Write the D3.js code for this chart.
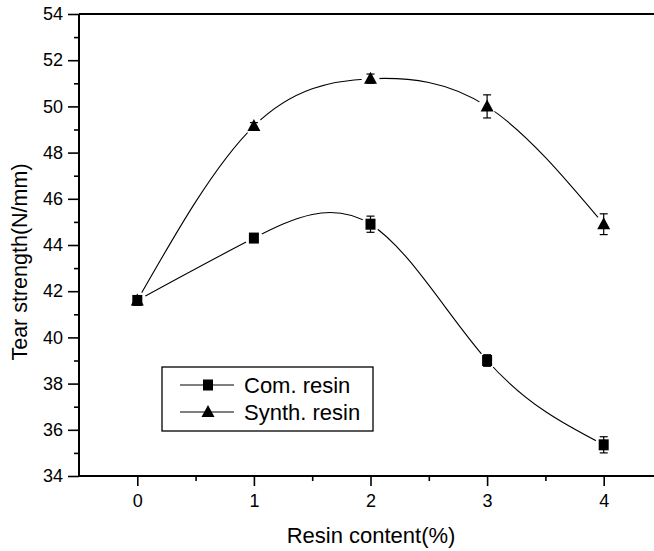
<!DOCTYPE html>
<html><head><meta charset="utf-8">
<script src="https://cdn.jsdelivr.net/npm/d3@7"></script>
<style>html,body{margin:0;padding:0;background:#fff;}svg{display:block;}</style>
</head><body>
<script>
const contents = [0, 1, 2, 3, 4];
const comResin = [41.6, 44.3, 44.9, 39.0, 35.35];
const comErr = [0.1, 0.15, 0.35, 0.25, 0.35];
const synthResin = [41.6, 49.15, 51.2, 50.0, 44.9];
const synthErr = [0.1, 0.15, 0.2, 0.5, 0.45];
const yTicks = [34, 36, 38, 40, 42, 44, 46, 48, 50, 52, 54];
const xTicks = [0, 1, 2, 3, 4];
const seriesNames = ["Com. resin", "Synth. resin"];

const W = 654, H = 551;
const svg = d3.select("body").append("svg").attr("width", W).attr("height", H);
const x = d3.scaleLinear().domain([-0.5, 4.5]).range([79, 662]);
const y = d3.scaleLinear().domain([34, 54]).range([476, 14]);
const font = "'Liberation Sans', Arial, sans-serif";

// axes
const gy = svg.append("g").attr("transform", "translate(79,0)")
  .call(d3.axisLeft(y).tickValues(yTicks).tickSize(11).tickPadding(5).tickFormat(d3.format("d")));
gy.select(".domain").remove();
const gyMinor = svg.append("g").attr("transform", "translate(79,0)")
  .call(d3.axisLeft(y).tickValues(d3.range(35, 54, 2)).tickSize(5).tickFormat(""));
gyMinor.select(".domain").remove();

const gx = svg.append("g").attr("transform", "translate(0,476)")
  .call(d3.axisBottom(x).tickValues(xTicks).tickSize(10).tickPadding(8).tickFormat(d3.format("d")));
gx.select(".domain").remove();
const gxMinor = svg.append("g").attr("transform", "translate(0,476)")
  .call(d3.axisBottom(x).tickValues([0.5, 1.5, 2.5, 3.5, 4.5]).tickSize(5).tickFormat(""));
gxMinor.select(".domain").remove();

svg.selectAll(".tick line").attr("stroke", "#000").attr("stroke-width", 1.6);
svg.selectAll(".tick text").attr("font-family", font).attr("font-size", 18).attr("fill", "#000");

svg.append("line").attr("x1", 79).attr("x2", 79).attr("y1", 14).attr("y2", 476).attr("stroke", "#000").attr("stroke-width", 2);
svg.append("line").attr("x1", 79).attr("x2", W).attr("y1", 476).attr("y2", 476).attr("stroke", "#000").attr("stroke-width", 2);
svg.append("line").attr("x1", 79).attr("x2", W).attr("y1", 14).attr("y2", 14).attr("stroke", "#000").attr("stroke-width", 2);

// axis titles
svg.append("text").attr("x", 371).attr("y", 543).attr("text-anchor", "middle")
  .attr("font-family", font).attr("font-size", 22).text("Resin content(%)");
svg.append("text").attr("transform", "translate(27,262) rotate(-90)").attr("text-anchor", "middle")
  .attr("font-family", font).attr("font-size", 21.5).text("Tear strength(N/mm)");

const line = d3.line().x((d, i) => x(contents[i])).y(d => y(d)).curve(d3.curveNatural);
const series = [
  {vals: comResin, err: comErr, shape: "square"},
  {vals: synthResin, err: synthErr, shape: "triangle"}
];
function marker(g, shape, cx, cy) {
  if (shape === "square") {
    g.append("rect").attr("x", cx - 5).attr("y", cy - 5.5).attr("width", 10).attr("height", 11).attr("fill", "#000");
  } else {
    g.append("path").attr("d", `M${cx},${cy - 7}L${cx + 6.5},${cy + 5}L${cx - 6.5},${cy + 5}Z`).attr("fill", "#000");
  }
}
series.forEach(s => {
  svg.append("path").attr("d", line(s.vals)).attr("fill", "none").attr("stroke", "#000").attr("stroke-width", 1.1);
});
series.forEach(s => {
  const g = svg.append("g");
  s.vals.forEach((v, i) => {
    g.append("circle").attr("cx", x(contents[i])).attr("cy", y(v)).attr("r", 9).attr("fill", "#fff");
  });
});
series.forEach(s => {
  const g = svg.append("g");
  s.vals.forEach((v, i) => {
    const cx = x(contents[i]);
    const e = s.err[i];
    g.append("line").attr("x1", cx).attr("x2", cx).attr("y1", y(v + e)).attr("y2", y(v - e)).attr("stroke", "#000").attr("stroke-width", 1.2);
    [v + e, v - e].forEach(t => g.append("line").attr("x1", cx - 4).attr("x2", cx + 4).attr("y1", y(t)).attr("y2", y(t)).attr("stroke", "#000").attr("stroke-width", 1.2));
    marker(g, s.shape, cx, y(v));
  });
});

// legend
const lg = svg.append("g");
lg.append("rect").attr("x", 162).attr("y", 367).attr("width", 211).attr("height", 64).attr("fill", "#fff").attr("stroke", "#000").attr("stroke-width", 1.3);
series.forEach((s, i) => {
  const ly = 385 + i * 27;
  lg.append("line").attr("x1", 180).attr("x2", 234).attr("y1", ly).attr("y2", ly).attr("stroke", "#000").attr("stroke-width", 1.1);
  marker(lg, s.shape, 208, ly);
  lg.append("text").attr("x", 244).attr("y", ly + 7.5).attr("font-family", font).attr("font-size", 22).text(seriesNames[i]);
});
</script>
</body></html>
